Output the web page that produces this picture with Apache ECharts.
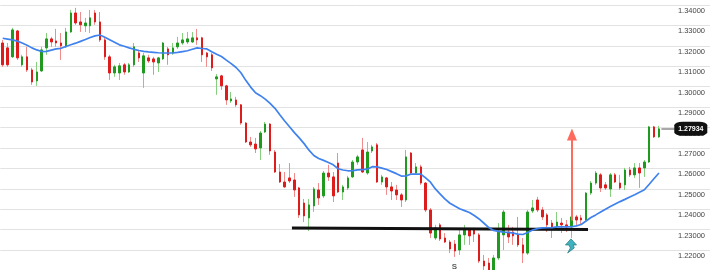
<!DOCTYPE html>
<html>
<head>
<meta charset="utf-8">
<style>
html,body{margin:0;padding:0;background:#fff;}
#c{width:710px;height:270px;}
</style>
<script src="https://cdn.jsdelivr.net/npm/echarts@6/dist/echarts.min.js"></script>
</head>
<body>
<div id="c"></div>
<script>
// ---- data ----
const open = [
1.3214,1.3190,1.3146,1.3273,1.3107,1.3146,1.3082,1.3028,1.3077,1.3190,
1.3234,1.3224,1.3214,1.3195,1.3268,1.3361,1.3317,1.3298,1.3298,1.3361,
1.3317,1.3229,1.3146,1.3067,1.3067,1.3107,1.3072,1.3107,1.3165,1.3067,
1.3141,1.3136,1.3116,1.3136,1.3185,1.3165,1.3195,1.3214,1.3219,1.3219,
1.3239,1.3239,1.3165,1.3156,1.3038,1.3053,1.3004,1.2930,1.2935,1.2911,
1.2822,1.2729,1.2719,1.2700,1.2778,1.2817,1.2680,1.2582,1.2533,1.2553,
1.2543,1.2504,1.2430,1.2357,1.2416,1.2494,1.2465,1.2577,1.2558,1.2626,
1.2484,1.2504,1.2558,1.2631,1.2690,1.2577,1.2685,1.2715,1.2533,1.2553,
1.2509,1.2494,1.2470,1.2445,1.2675,1.2577,1.2607,1.2528,1.2396,1.2259,
1.2323,1.2259,1.2239,1.2229,1.2200,1.2274,1.2298,1.2298,1.2274,1.2146,
1.2136,1.2102,1.2161,1.2274,1.2288,1.2288,1.2274,1.2225,1.2185,1.2391,
1.2445,1.2396,1.2372,1.2332,1.2313,1.2332,1.2323,1.2313,1.2362,1.2357,
1.2347,1.2479,1.2528,1.2568,1.2519,1.2499,1.2568,1.2528,1.2519,1.2592,
1.2568,1.2602,1.2602,1.2631,1.2803,1.2754
];
const close = [
1.3107,1.3107,1.3278,1.3141,1.3146,1.3082,1.3023,1.3072,1.3180,1.3234,
1.3219,1.3214,1.3200,1.3268,1.3361,1.3312,1.3303,1.3312,1.3337,1.3317,
1.3229,1.3146,1.3067,1.3097,1.3102,1.3072,1.3107,1.3195,1.3141,1.3151,
1.3126,1.3121,1.3141,1.3214,1.3156,1.3190,1.3214,1.3229,1.3234,1.3239,
1.3229,1.3156,1.3146,1.3092,1.3048,1.3004,1.2935,1.2940,1.2911,1.2822,
1.2729,1.2715,1.2695,1.2773,1.2817,1.2685,1.2582,1.2533,1.2509,1.2538,
1.2494,1.2372,1.2367,1.2421,1.2499,1.2455,1.2577,1.2558,1.2465,1.2484,
1.2509,1.2553,1.2631,1.2656,1.2582,1.2680,1.2705,1.2533,1.2558,1.2509,
1.2489,1.2470,1.2445,1.2656,1.2577,1.2607,1.2528,1.2396,1.2283,1.2308,
1.2254,1.2239,1.2205,1.2195,1.2274,1.2303,1.2269,1.2278,1.2146,1.2122,
1.2102,1.2161,1.2288,1.2386,1.2264,1.2269,1.2225,1.2185,1.2386,1.2406,
1.2396,1.2362,1.2323,1.2313,1.2337,1.2323,1.2313,1.2362,1.2347,1.2347,
1.2479,1.2528,1.2577,1.2504,1.2504,1.2568,1.2533,1.2504,1.2592,1.2568,
1.2602,1.2577,1.2631,1.2803,1.2754,1.27934
];
const low = [
1.3097,1.3097,1.3141,1.3131,1.3097,1.3072,1.3009,1.3004,1.3072,1.3156,
1.3195,1.3195,1.3131,1.3190,1.3263,1.3303,1.3268,1.3268,1.3263,1.3303,
1.3219,1.3131,1.3033,1.3048,1.3033,1.3058,1.3067,1.3097,1.3121,1.2994,
1.3116,1.3058,1.3072,1.3131,1.3107,1.3156,1.3185,1.3205,1.3209,1.3214,
1.3205,1.3121,1.3097,1.3077,1.2960,1.2984,1.2911,1.2920,1.2901,1.2813,
1.2724,1.2705,1.2675,1.2641,1.2773,1.2666,1.2577,1.2528,1.2504,1.2528,
1.2460,1.2357,1.2337,1.2293,1.2386,1.2421,1.2455,1.2538,1.2435,1.2479,
1.2445,1.2494,1.2553,1.2617,1.2577,1.2568,1.2675,1.2528,1.2519,1.2470,
1.2445,1.2445,1.2411,1.2435,1.2568,1.2568,1.2519,1.2386,1.2259,1.2249,
1.2244,1.2234,1.2185,1.2166,1.2176,1.2225,1.2225,1.2239,1.2136,1.2102,
1.2078,1.2078,1.2151,1.2200,1.2234,1.2225,1.2215,1.2136,1.2176,1.2381,
1.2386,1.2347,1.2288,1.2259,1.2308,1.2283,1.2288,1.2259,1.2323,1.2327,
1.2337,1.2470,1.2519,1.2484,1.2494,1.2460,1.2528,1.2494,1.2494,1.2558,
1.2553,1.2504,1.2558,1.2626,1.2749,1.2749
];
const high = [
1.3229,1.3214,1.3288,1.3278,1.3156,1.3195,1.3092,1.3121,1.3195,1.3263,
1.3244,1.3283,1.3263,1.3288,1.3376,1.3386,1.3366,1.3337,1.3376,1.3376,
1.3366,1.3244,1.3156,1.3107,1.3116,1.3116,1.3116,1.3214,1.3180,1.3165,
1.3156,1.3146,1.3146,1.3219,1.3195,1.3214,1.3244,1.3263,1.3268,1.3268,
1.3283,1.3244,1.3170,1.3165,1.3062,1.3058,1.3009,1.2974,1.2950,1.2915,
1.2827,1.2754,1.2749,1.2783,1.2827,1.2822,1.2690,1.2621,1.2582,1.2626,
1.2577,1.2509,1.2450,1.2450,1.2509,1.2528,1.2587,1.2617,1.2582,1.2675,
1.2519,1.2563,1.2641,1.2666,1.2749,1.2729,1.2715,1.2724,1.2568,1.2558,
1.2533,1.2519,1.2479,1.2690,1.2680,1.2626,1.2617,1.2533,1.2406,1.2323,
1.2332,1.2283,1.2249,1.2249,1.2298,1.2323,1.2308,1.2308,1.2283,1.2176,
1.2161,1.2176,1.2332,1.2396,1.2323,1.2313,1.2362,1.2259,1.2396,1.2445,
1.2460,1.2411,1.2381,1.2347,1.2386,1.2357,1.2347,1.2372,1.2372,1.2372,
1.2484,1.2538,1.2587,1.2577,1.2533,1.2577,1.2577,1.2568,1.2602,1.2607,
1.2626,1.2626,1.2641,1.2808,1.2808,1.2808
];
const movingAvg = [
1.3237,1.3233,1.3229,1.3223,1.3214,1.3203,1.3190,1.3180,1.3172,1.3173,
1.3179,1.3185,1.3188,1.3197,1.3205,1.3213,1.3222,1.3231,1.3241,1.3249,
1.3253,1.3242,1.3230,1.3218,1.3205,1.3198,1.3190,1.3183,1.3177,1.3173,
1.3170,1.3168,1.3166,1.3165,1.3165,1.3165,1.3168,1.3172,1.3176,1.3183,
1.3190,1.3187,1.3185,1.3171,1.3159,1.3148,1.3130,1.3113,1.3094,1.3068,
1.3031,1.2998,1.2970,1.2956,1.2939,1.2918,1.2894,1.2862,1.2832,1.2804,
1.2775,1.2749,1.2721,1.2689,1.2663,1.2648,1.2639,1.2629,1.2617,1.2598,
1.2592,1.2588,1.2589,1.2592,1.2594,1.2596,1.2608,1.2607,1.2601,1.2594,
1.2584,1.2574,1.2562,1.2563,1.2572,1.2572,1.2572,1.2553,1.2532,1.2499,
1.2474,1.2449,1.2429,1.2415,1.2402,1.2393,1.2384,1.2369,1.2352,1.2331,
1.2310,1.2296,1.2291,1.2288,1.2286,1.2283,1.2278,1.2276,1.2286,1.2298,
1.2305,1.2308,1.2309,1.2310,1.2313,1.2313,1.2313,1.2314,1.2318,1.2325,
1.2342,1.2359,1.2372,1.2386,1.2400,1.2413,1.2425,1.2437,1.2448,1.2460,
1.2471,1.2483,1.2495,1.2522,1.2550,1.2577
];
const yTicks = {min: 1.22, max: 1.34, step: 0.01};
const lastPrice = 1.27934;
const monthLines = [19.3, 40.0, 63.2, 84.1, 106.2, 129.2];   // bar positions of month separators
const supportLine = [[59.5, 1.2308], [120.4, 1.2301]];
const targetArrow = [[117.1, 1.2345], [117.1, 1.2766]];
const signalMark = [116.9, 1.2220];
const shoulderLabels = [{text: 'S', at: [92.9, 1.2117]}, {text: 'S', at: [107.6, 1.2090]}];
const totalSlots = 146; // candles + empty room on the right

// ---- chart ----
const categories = Array.from({length: totalSlots}, (_, i) => String(i + 1));
const ohlc = open.map((o, i) => [o, close[i], low[i], high[i]]);
const bodies = open.map((o, i) => [o, close[i], Math.min(o, close[i]), Math.max(o, close[i])]);

const chart = echarts.init(document.getElementById('c'), null, {renderer: 'canvas'});
const font = '"Liberation Sans", Arial, Helvetica, sans-serif';

const vGrid = monthLines.map(x => [
  {coord: [x, 1.36], symbol: 'none'},
  {coord: [x, 1.20], symbol: 'none'}
]);

chart.setOption({
  animation: false,
  backgroundColor: '#ffffff',
  // 1.34 gridline at y=5, 1.22 gridline at y=250
  grid: {left: 0.3, top: 5, width: 712.5, height: 245, containLabel: false},
  xAxis: [
    {type: 'category', data: categories, boundaryGap: true,
     axisLine: {show: false}, axisTick: {show: false}, axisLabel: {show: false}, splitLine: {show: false}},
    {type: 'value', min: -0.5, max: totalSlots - 0.5, show: false}
  ],
  yAxis: {
    type: 'value', position: 'right', min: yTicks.min, max: yTicks.max, interval: yTicks.step,
    axisLine: {show: false}, axisTick: {show: false},
    splitLine: {show: true, lineStyle: {color: '#e2e2e2', width: 1}},
    axisLabel: {inside: true, margin: 5, fontSize: 7.5, color: '#444', fontFamily: font,
      verticalAlign: 'top', padding: [2, 0, 0, 0],
      formatter: v => v.toFixed(5)}
  },
  series: [
    { // month separators on a value x-axis
      type: 'line', xAxisIndex: 1, yAxisIndex: 0, data: [[0, 1.30], [1, 1.30]],
      symbol: 'none', lineStyle: {opacity: 0}, clip: false, silent: true, z: 1,
      markLine: {
        silent: true, symbol: 'none', animation: false,
        label: {show: false},
        lineStyle: {color: '#d6d6d6', width: 1, type: 'solid'},
        data: vGrid
      }
    },
    {
      type: 'candlestick', name: 'wicks', data: ohlc, barWidth: 1, clip: false, z: 3,
      itemStyle: {color: 'transparent', color0: 'transparent', borderColor: '#86cf7e', borderColor0: '#f08c8c', borderWidth: 1}
    },
    {
      type: 'candlestick', name: 'bodies', data: bodies, barWidth: 2, clip: false, z: 4,
      itemStyle: {color: '#1f9a1f', color0: '#dd1c1c', borderColor: '#1f9a1f', borderColor0: '#dd1c1c', borderWidth: 1}
    },
    {
      type: 'line', name: 'MA', data: movingAvg, symbol: 'none', smooth: false, z: 5,
      lineStyle: {color: '#3f82ee', width: 1.7}
    },
    {
      type: 'scatter', name: 'pattern', xAxisIndex: 1, yAxisIndex: 0, clip: false, silent: true, z: 7,
      data: shoulderLabels.map(s => ({value: s.at, name: s.text})),
      symbol: 'circle', symbolSize: 1, itemStyle: {color: 'rgba(0,0,0,0)'},
      label: {show: true, position: 'inside', formatter: p => p.name, color: '#333',
              fontSize: 8, fontWeight: 'bold', fontFamily: font}
    },
    {
      type: 'line', xAxisIndex: 1, yAxisIndex: 0, data: [[0, 1.30], [1, 1.30]],
      symbol: 'none', lineStyle: {opacity: 0}, clip: false, silent: true, z: 6,
      markLine: {
        silent: true, animation: false, label: {show: false},
        data: [
          [{coord: supportLine[0], symbol: 'none', lineStyle: {color: '#111', width: 3, type: 'solid'}},
           {coord: supportLine[1], symbol: 'none'}],
          [{coord: targetArrow[0], symbol: 'none', symbolSize: [10, 12], lineStyle: {color: '#ff6b5c', width: 2, type: 'solid'}},
           {coord: targetArrow[1], symbol: 'triangle', symbolSize: [10, 12]}],
          [{coord: [open.length - 0.5, lastPrice], symbol: 'none', lineStyle: {color: '#a8a8a8', width: 2, type: 'solid'}},
           {coord: [141, lastPrice], symbol: 'none'}]
        ]
      },
      markPoint: {
        silent: true, animation: false,
        data: [
          {coord: [141.55, lastPrice], symbol: 'roundRect', symbolSize: [33, 14],
           itemStyle: {color: '#111'},
           label: {show: true, position: 'inside', formatter: lastPrice.toFixed(5), color: '#fff',
                   fontSize: 7, fontWeight: 'bold', fontFamily: font}},
          {coord: signalMark, symbol: 'path://M5 0 L10 6 L7 6 L8 9 L2 14 L4.5 9 L3 6 L0 6 Z',
           symbolSize: [11, 14], itemStyle: {color: '#3fb2c0', borderColor: '#2a7f8a', borderWidth: 0.8},
           label: {show: false}}
        ]
      }
    }
  ]
});
</script>
</body>
</html>
